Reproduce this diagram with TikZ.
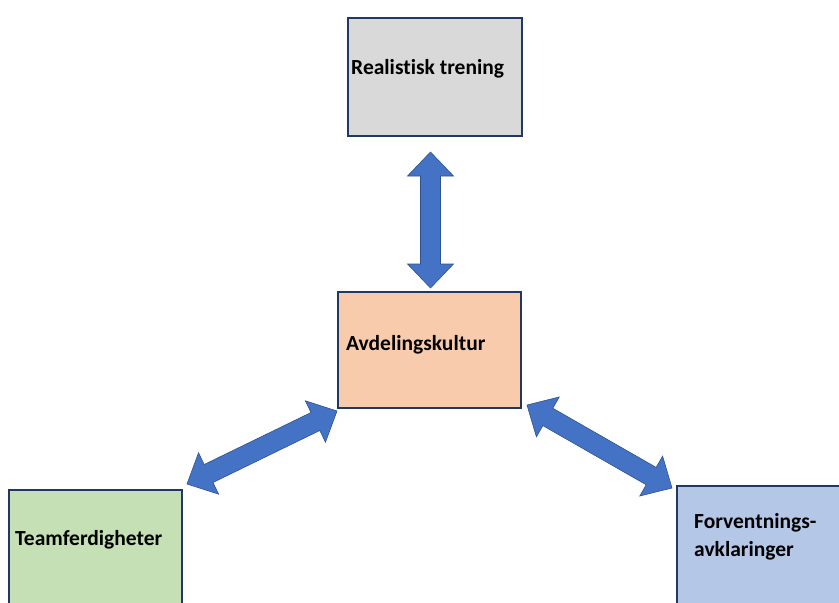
\documentclass[tikz,border=0pt]{standalone}
\usepackage{fontspec}
\setmainfont[Ligatures=NoCommon]{Carlito}
\usetikzlibrary{calc}
\definecolor{boxborder}{HTML}{1F3864}
\definecolor{grayfill}{HTML}{D9D9D9}
\definecolor{orangefill}{HTML}{F8CBAD}
\definecolor{greenfill}{HTML}{C5E0B4}
\definecolor{bluefill}{HTML}{B4C7E7}
\definecolor{arrowfill}{HTML}{4472C4}
\definecolor{arrowline}{HTML}{2F528F}
\tikzset{
  box/.style={draw=boxborder, line width=2.8pt, rectangle, inner sep=0pt},
  boxtext/.style={anchor=west, inner sep=0pt, font=\fontsize{21.5}{28}\selectfont\bfseries, align=left},
  bigarrow/.style={fill=arrowfill, draw=arrowline, line width=0.6pt, line join=miter},
}
\newcommand\dblarr[2]{%
  \coordinate (h1) at ($(#1)!24pt!(#2)$);
  \coordinate (h2) at ($(#2)!24pt!(#1)$);
  \draw[bigarrow] (#1) -- ($(h1)!23pt!90:(#2)$) -- ($(h1)!10pt!90:(#2)$)
    -- ($(h2)!10pt!-90:(#1)$) -- ($(h2)!23pt!-90:(#1)$) -- (#2)
    -- ($(h2)!23pt!90:(#1)$) -- ($(h2)!10pt!90:(#1)$)
    -- ($(h1)!10pt!-90:(#2)$) -- ($(h1)!23pt!-90:(#2)$) -- cycle;
}
\begin{document}
\begin{tikzpicture}[x=1pt, y=-1pt]
\useasboundingbox (0,0) rectangle (839,603);
\clip (0,0) rectangle (839,603);
\fill[white] (0,0) rectangle (839,603);
% boxes
\node[box, fill=grayfill, minimum width=174pt, minimum height=118pt] (top) at (435,77) {};
\node[box, fill=orangefill, minimum width=183pt, minimum height=116pt] (mid) at (429.5,350) {};
\node[box, fill=greenfill, minimum width=173pt, minimum height=130pt] (left) at (95.5,555) {};
\node[box, fill=bluefill, minimum width=183pt, minimum height=130pt] (right) at (768.5,551) {};
% texts
\node[boxtext] (ttop) at (351,69) {Realistisk trening};
\node[boxtext] (tmid) at (346,345) {Avdelingskultur};
\node[boxtext] (tleft) at (15,540) {Teamferdigheter};
\node[boxtext] (tright) at (694,537) {Forventnings-\\avklaringer};
% arrow end points
\coordinate (va) at (430.5,152);
\coordinate (vb) at (430.5,288);
\coordinate (la) at (337,411);
\coordinate (lb) at (187,484);
\coordinate (ra) at (527,405);
\coordinate (rb) at (672,488);
\dblarr{va}{vb}
\dblarr{la}{lb}
\dblarr{ra}{rb}
\end{tikzpicture}
\end{document}
